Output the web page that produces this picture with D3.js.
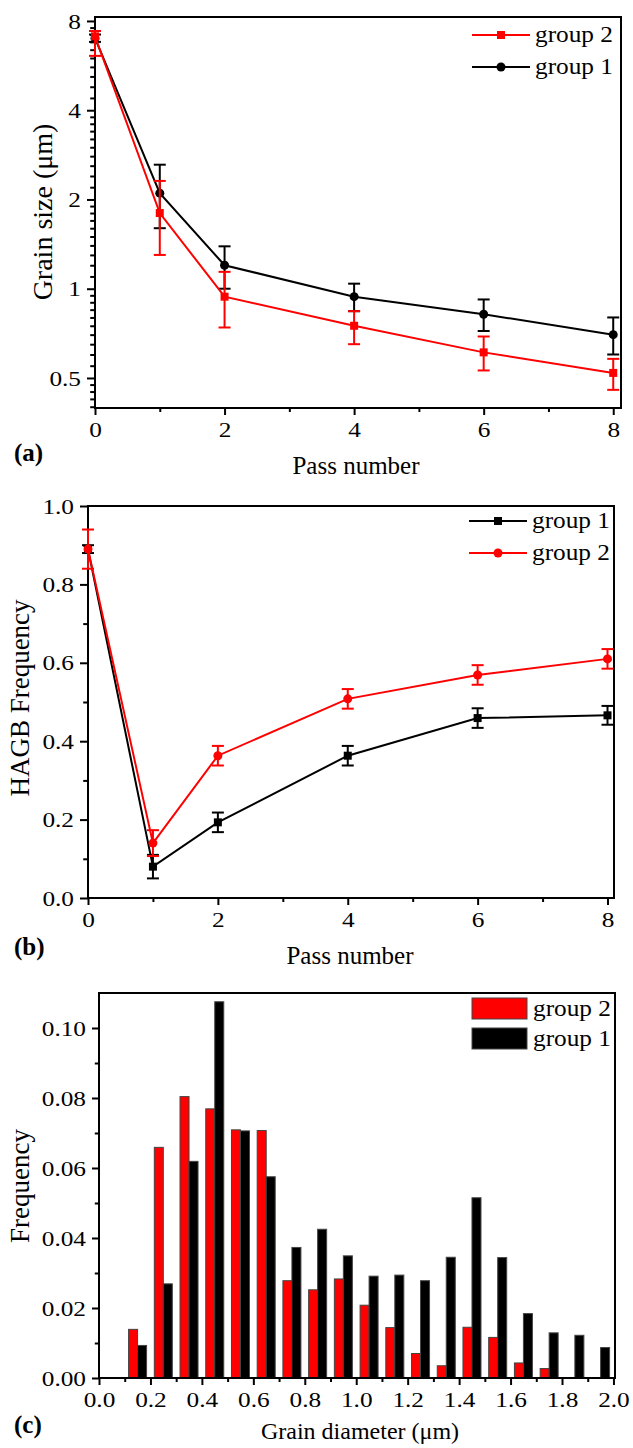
<!DOCTYPE html>
<html>
<head>
<meta charset="utf-8">
<script src="https://cdn.jsdelivr.net/npm/d3@7"></script>
<style>
  body { margin: 0; background: #fff; }
  svg text { font-family: "Liberation Serif", "Times New Roman", serif; fill: #000; }
</style>
</head>
<body>
<div id="chart"></div>
<script>
// ---- data ----
// (a) grain size vs pass number
const passes = [0, 1, 2, 4, 6, 8];
const grainG1 = [7.0, 2.10, 1.20, 0.94, 0.82, 0.70];
const grainG1Hi = [7.2, 2.62, 1.39, 1.04, 0.92, 0.80];
const grainG1Lo = [6.8, 1.60, 1.00, 0.84, 0.72, 0.60];
const grainG2 = [7.1, 1.80, 0.94, 0.75, 0.61, 0.52];
const grainG2Hi = [7.4, 2.31, 1.14, 0.84, 0.69, 0.58];
const grainG2Lo = [6.1, 1.30, 0.74, 0.65, 0.53, 0.456];
const grainTicks = [0.5, 1, 2, 4, 8];

// (b) HAGB frequency vs pass number
const hagbG1 = [0.89, 0.08, 0.193, 0.363, 0.459, 0.466];
const hagbG1Err = [0.01, 0.03, 0.025, 0.025, 0.025, 0.024];
const hagbG2 = [0.89, 0.14, 0.363, 0.508, 0.569, 0.610];
const hagbG2Err = [0.05, 0.033, 0.025, 0.025, 0.025, 0.025];
const hagbTicks = [0, 0.2, 0.4, 0.6, 0.8, 1.0];
const passTicks = [0, 2, 4, 6, 8];

// (c) grain diameter distribution
const binCenters = [0.15, 0.25, 0.35, 0.45, 0.55, 0.65, 0.75, 0.85, 0.95, 1.05,
                    1.15, 1.25, 1.35, 1.45, 1.55, 1.65, 1.75, 1.85, 1.95];
const freqG2 = [0.0139, 0.0659, 0.0804, 0.0769, 0.0709, 0.0707, 0.0278, 0.0252, 0.0283, 0.0208,
                0.0144, 0.0070, 0.0035, 0.0145, 0.0116, 0.0043, 0.0027, 0, 0];
const freqG1 = [0.0093, 0.0269, 0.0619, 0.1075, 0.0706, 0.0575, 0.0373, 0.0425, 0.0349, 0.0291,
                0.0294, 0.0278, 0.0345, 0.0515, 0.0344, 0.0184, 0.0129, 0.0122, 0.0087];
const freqTicks = [0, 0.02, 0.04, 0.06, 0.08, 0.10];
const diamTicks = [0, 0.2, 0.4, 0.6, 0.8, 1.0, 1.2, 1.4, 1.6, 1.8, 2.0];

const RED = "#ff0000";
const W = 633, H = 1448;

const svg = d3.select("#chart").append("svg").attr("width", W).attr("height", H);
svg.append("rect").attr("width", W).attr("height", H).attr("fill", "#fff");

// text helper, fonts in the figure run a bit wide
const txt = (g, x, y, s, o = {}) => {
    const sx = o.sx || 1;
    const rot = o.rotate ? " rotate(-90)" : "";
    return g.append("text")
        .attr("transform", `translate(${x},${y})${rot} scale(${sx},1)`)
        .attr("text-anchor", o.anchor || "middle")
        .attr("dy", "0.35em")
        .style("font-size", (o.size || 22) + "px")
        .style("font-weight", o.bold ? "bold" : "normal")
        .text(s);
};

const TICK_SX = 1.15, TICK_FS = 22;

const styleAxis = (g) => {
    g.select(".domain").remove();
    g.selectAll("line").attr("stroke", "#000").attr("stroke-width", 2);
};

const bottomAxis = (g, x, y0, majors, minors, fmt) => {
    const a = g.append("g").attr("transform", `translate(0,${y0})`)
        .call(d3.axisBottom(x).tickValues(majors).tickSize(7).tickSizeOuter(0).tickPadding(6).tickFormat(fmt));
    styleAxis(a);
    a.selectAll("text").attr("transform", `scale(${TICK_SX},1)`)
        .style("font-size", TICK_FS + "px").attr("font-family", null);
    const m = g.append("g").attr("transform", `translate(0,${y0})`)
        .call(d3.axisBottom(x).tickValues(minors).tickSize(4).tickSizeOuter(0).tickFormat(""));
    styleAxis(m);
};

const leftAxis = (g, y, x0, majors, minors, fmt, tickLen) => {
    const a = g.append("g").attr("transform", `translate(${x0},0)`)
        .call(d3.axisLeft(y).tickValues(majors).tickSize(tickLen).tickSizeOuter(0).tickFormat(fmt));
    styleAxis(a);
    a.selectAll("text").attr("x", -(tickLen + 6) / TICK_SX)
        .attr("transform", `scale(${TICK_SX},1)`)
        .style("font-size", TICK_FS + "px").attr("font-family", null);
    const m = g.append("g").attr("transform", `translate(${x0},0)`)
        .call(d3.axisLeft(y).tickValues(minors).tickSize(tickLen * 0.6).tickSizeOuter(0).tickFormat(""));
    styleAxis(m);
};

const frame = (g, l, t, r, b) => {
    g.append("rect").attr("x", l).attr("y", t).attr("width", r - l).attr("height", b - t)
        .attr("fill", "none").attr("stroke", "#000").attr("stroke-width", 2);
};

const errBars = (g, x, y, xs, hi, lo, color) => {
    xs.forEach((d, i) => {
        const cx = x(d);
        g.append("line").attr("x1", cx).attr("x2", cx).attr("y1", y(hi[i])).attr("y2", y(lo[i]))
            .attr("stroke", color).attr("stroke-width", 2);
        [hi[i], lo[i]].forEach(v => {
            g.append("line").attr("x1", cx - 6).attr("x2", cx + 6).attr("y1", y(v)).attr("y2", y(v))
                .attr("stroke", color).attr("stroke-width", 2);
        });
    });
};

const series = (g, x, y, xs, vals, color, shape) => {
    const line = d3.line().x((d, i) => x(xs[i])).y(d => y(d));
    g.append("path").datum(vals).attr("d", line).attr("fill", "none")
        .attr("stroke", color).attr("stroke-width", 2);
    vals.forEach((v, i) => marker(g, x(xs[i]), y(v), color, shape));
};

const marker = (g, cx, cy, color, shape) => {
    if (shape === "square") {
        g.append("rect").attr("x", cx - 4).attr("y", cy - 4).attr("width", 8).attr("height", 8).attr("fill", color);
    } else {
        g.append("circle").attr("cx", cx).attr("cy", cy).attr("r", 4.5).attr("fill", color);
    }
};

const lineLegend = (g, x0, y0, items) => {
    items.forEach((it, i) => {
        const yy = y0 + i * 32;
        g.append("line").attr("x1", x0).attr("x2", x0 + 58).attr("y1", yy).attr("y2", yy)
            .attr("stroke", it.color).attr("stroke-width", 2);
        marker(g, x0 + 29, yy, it.color, it.shape);
        txt(g, x0 + 63, yy - 1, it.label, { anchor: "start", size: 23, sx: 1.1 });
    });
};

// ================= (a) =================
{
    const L = 95, T = 17, R = 621, B = 408;
    const g = svg.append("g");
    const x = d3.scaleLinear().domain([0, 8.12]).range([L, R]);
    const y = d3.scaleLog().base(2).domain([0.396, 8.25]).range([B, T]);

    const minorY = [];
    [0.25, 0.5, 1, 2, 4].forEach(a => {
        for (let k = 1; k < 10; k++) {
            const v = a + k * a / 10;
            if (v > y.domain()[0] && v < y.domain()[1]) minorY.push(v);
        }
    });
    leftAxis(g, y, L, grainTicks, minorY, d3.format("~g"), 8);
    bottomAxis(g, x, B, passTicks, [1, 3, 5, 7], d3.format("d"));
    frame(g, L, T, R, B);

    errBars(g, x, y, passes, grainG1Hi, grainG1Lo, "#000");
    series(g, x, y, passes, grainG1, "#000", "circle");
    errBars(g, x, y, passes, grainG2Hi, grainG2Lo, RED);
    series(g, x, y, passes, grainG2, RED, "square");

    lineLegend(g, 472, 35, [
        { label: "group 2", color: RED, shape: "square" },
        { label: "group 1", color: "#000", shape: "circle" }
    ]);

    txt(g, 42, 212, "Grain size (\u03bcm)", { rotate: true, size: 28 });
    txt(g, 356, 465, "Pass number", { size: 25 });
    txt(g, 14, 452, "(a)", { anchor: "start", size: 25, bold: true });
}

// ================= (b) =================
{
    const L = 88, T = 506, R = 614, B = 898;
    const g = svg.append("g");
    const x = d3.scaleLinear().domain([0, 8.1]).range([L, R]);
    const y = d3.scaleLinear().domain([0, 1.0]).range([B, T]);

    leftAxis(g, y, L, hagbTicks, [0.1, 0.3, 0.5, 0.7, 0.9], d3.format(".1f"), 8);
    bottomAxis(g, x, B, passTicks, [1, 3, 5, 7], d3.format("d"));
    frame(g, L, T, R, B);

    errBars(g, x, y, passes, hagbG1.map((v, i) => v + hagbG1Err[i]), hagbG1.map((v, i) => v - hagbG1Err[i]), "#000");
    series(g, x, y, passes, hagbG1, "#000", "square");
    errBars(g, x, y, passes, hagbG2.map((v, i) => v + hagbG2Err[i]), hagbG2.map((v, i) => v - hagbG2Err[i]), RED);
    series(g, x, y, passes, hagbG2, RED, "circle");

    lineLegend(g, 469, 521, [
        { label: "group 1", color: "#000", shape: "square" },
        { label: "group 2", color: RED, shape: "circle" }
    ]);

    txt(g, 20, 698, "HAGB Frequency", { rotate: true, size: 27 });
    txt(g, 350, 955, "Pass number", { size: 25 });
    txt(g, 14, 946, "(b)", { anchor: "start", size: 25, bold: true });
}

// ================= (c) =================
{
    const L = 99, T = 993, R = 615, B = 1378;
    const g = svg.append("g");
    const x = d3.scaleLinear().domain([0, 2.006]).range([L, R]);
    const y = d3.scaleLinear().domain([0, 0.11]).range([B, T]);
    const bw = 0.035;

    leftAxis(g, y, L, freqTicks, [0.01, 0.03, 0.05, 0.07, 0.09], d3.format(".2f"), 7);
    bottomAxis(g, x, B, diamTicks, [0.1, 0.3, 0.5, 0.7, 0.9, 1.1, 1.3, 1.5, 1.7, 1.9], d3.format(".1f"));

    binCenters.forEach((c, i) => {
        if (freqG2[i] > 0) {
            g.append("rect").attr("x", x(c - bw)).attr("y", y(freqG2[i]))
                .attr("width", x(c) - x(c - bw)).attr("height", y(0) - y(freqG2[i]))
                .attr("fill", RED).attr("stroke", "#444").attr("stroke-width", 1);
        }
        g.append("rect").attr("x", x(c)).attr("y", y(freqG1[i]))
            .attr("width", x(c + bw) - x(c)).attr("height", y(0) - y(freqG1[i]))
            .attr("fill", "#000").attr("stroke", "#444").attr("stroke-width", 1);
    });
    frame(g, L, T, R, B);

    // legend
    [{ label: "group 2", color: RED }, { label: "group 1", color: "#000" }].forEach((it, i) => {
        const yy = 998 + i * 30;
        g.append("rect").attr("x", 472).attr("y", yy).attr("width", 55).attr("height", 21)
            .attr("fill", it.color).attr("stroke", "#444").attr("stroke-width", 1);
        txt(g, 533, yy + 10, it.label, { anchor: "start", size: 23, sx: 1.1 });
    });

    txt(g, 20, 1186, "Frequency", { rotate: true, size: 27 });
    txt(g, 360, 1431, "Grain diameter (\u03bcm)", { size: 24 });
    txt(g, 14, 1424, "(c)", { anchor: "start", size: 25, bold: true });
}
</script>
</body>
</html>
